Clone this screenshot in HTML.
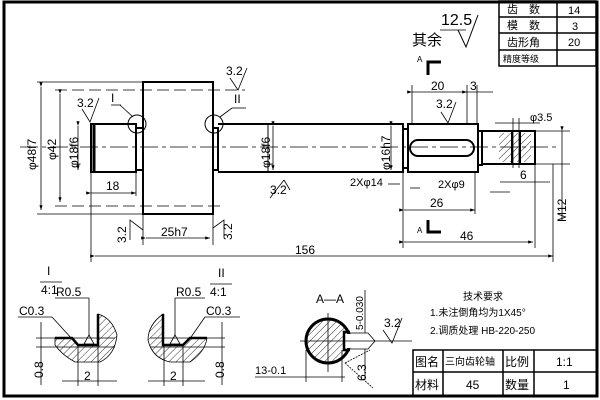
<!DOCTYPE html>
<html><head><meta charset="utf-8"><style>
html,body{margin:0;padding:0;background:#fff;}
svg{display:block;}
text{font-family:"Liberation Sans","Noto Sans CJK SC",sans-serif;fill:#000;}
</style></head><body>
<svg width="600" height="400" viewBox="0 0 600 400" xmlns="http://www.w3.org/2000/svg">
<defs>
<pattern id="h" width="5" height="5" patternUnits="userSpaceOnUse" patternTransform="rotate(45)"><line x1="0" y1="0" x2="0" y2="5" stroke="#000" stroke-width="0.8"/></pattern>
<marker id="a" markerWidth="6" markerHeight="4" refX="6" refY="2" orient="auto"><path d="M0,0L6,2L0,4z"/></marker>
</defs>
<rect x="0" y="0" width="600" height="400" fill="#fff"/>
<rect x="4" y="2" width="593" height="394" fill="none" stroke="#000" stroke-width="3"/>
<g stroke="#000" stroke-width="1.5" fill="none">
<rect x="499" y="1" width="97" height="65"/>
<line x1="499" y1="17" x2="596" y2="17"/><line x1="499" y1="33" x2="596" y2="33"/><line x1="499" y1="50" x2="596" y2="50"/>
<line x1="557" y1="1" x2="557" y2="66"/>
</g>
<g font-size="11">
<text x="507" y="13">齿　数</text><text x="568" y="14">14</text>
<text x="507" y="29">模　数</text><text x="572" y="30">3</text>
<text x="507" y="46">齿形角</text><text x="568" y="46">20</text>
<text x="503" y="62" font-size="9">精度等级</text>
</g>
<text x="412" y="45" font-size="15">其余</text>
<text x="441" y="25" font-size="16">12.5</text>
<path d="M458,30L466,47L478,15" fill="none" stroke="#000"/><line x1="440" y1="30" x2="466" y2="30" stroke="#000" stroke-width="0.8"/>
<text x="417" y="62" font-size="8">A</text>
<path d="M428,75V62H441" fill="none" stroke="#000" stroke-width="3"/>
<text x="417" y="233" font-size="8">A</text>
<path d="M428,220V232H441" fill="none" stroke="#000" stroke-width="3"/>

<g stroke="#000" fill="none">
<line x1="20" y1="147" x2="560" y2="147" stroke-width="0.8" stroke-dasharray="18,4,4,4"/>
<rect x="91" y="124" width="45" height="48" stroke-width="2"/>
<line x1="94" y1="124" x2="94" y2="172" stroke-width="3"/>
<rect x="136" y="128" width="7" height="42" stroke-width="2"/>
<rect x="143" y="82" width="70" height="132" stroke-width="2"/>
<rect x="213" y="128" width="5" height="42" stroke-width="2"/>
<path d="M218,124H403V172H218" stroke-width="2"/>
<line x1="268" y1="124" x2="268" y2="172" stroke-width="1"/>
<rect x="403" y="129" width="5" height="39" stroke-width="2"/>
<rect x="408" y="124" width="70" height="48" stroke-width="2"/>
<rect x="410" y="140" width="64" height="16" rx="8" stroke-width="2"/>
<rect x="478" y="131" width="4" height="34" stroke-width="2"/>
<rect x="482" y="131" width="53" height="33" stroke-width="2"/>
<rect x="499" y="133" width="32" height="29" fill="url(#h)" stroke="none"/>
<line x1="513" y1="118" x2="513" y2="168" stroke-width="0.8"/><line x1="519" y1="118" x2="519" y2="168" stroke-width="0.8"/>
<line x1="512" y1="131" x2="512" y2="164" stroke-width="2"/><line x1="520" y1="131" x2="520" y2="164" stroke-width="2"/>
<circle cx="137" cy="124" r="9" stroke-width="1"/>
<circle cx="214" cy="124" r="9" stroke-width="1"/>
<line x1="120" y1="105" x2="133" y2="117" stroke-width="0.8"/><line x1="111" y1="105" x2="121" y2="105" stroke-width="0.8"/>
<line x1="232" y1="108" x2="220" y2="117" stroke-width="0.8"/><line x1="232" y1="108" x2="246" y2="108" stroke-width="0.8"/>
</g>
<g stroke="#000" stroke-width="0.8" fill="none">
<line x1="37" y1="82" x2="143" y2="82"/><line x1="37" y1="214" x2="143" y2="214"/>
<line x1="55" y1="90" x2="245" y2="90" stroke-dasharray="12,5"/><line x1="55" y1="206" x2="220" y2="206" stroke-dasharray="12,5"/>
<line x1="41" y1="87" x2="41" y2="210" marker-start="url(#a)" marker-end="url(#a)"/>
<line x1="60" y1="94" x2="60" y2="202" marker-start="url(#a)" marker-end="url(#a)"/>
<line x1="78" y1="126" x2="78" y2="170" marker-start="url(#a)" marker-end="url(#a)"/>
<line x1="91" y1="172" x2="91" y2="262"/><line x1="136" y1="172" x2="136" y2="196"/>
<line x1="91" y1="193" x2="136" y2="193" marker-start="url(#a)" marker-end="url(#a)"/>
<line x1="143" y1="214" x2="143" y2="245"/><line x1="213" y1="214" x2="213" y2="245"/>
<line x1="146" y1="238" x2="210" y2="238" marker-start="url(#a)" marker-end="url(#a)"/>
<line x1="95" y1="256" x2="553" y2="256" marker-start="url(#a)" marker-end="url(#a)"/>
<line x1="553" y1="164" x2="553" y2="262"/>
<line x1="273" y1="126" x2="273" y2="170" marker-start="url(#a)" marker-end="url(#a)"/>
<line x1="391" y1="126" x2="391" y2="170" marker-start="url(#a)" marker-end="url(#a)"/>
<line x1="403" y1="172" x2="403" y2="248"/><line x1="475" y1="172" x2="475" y2="214"/><line x1="535" y1="164" x2="535" y2="248"/>
<line x1="404" y1="210" x2="475" y2="210" marker-start="url(#a)" marker-end="url(#a)"/>
<line x1="404" y1="242" x2="533" y2="242" marker-start="url(#a)" marker-end="url(#a)"/>
<line x1="412" y1="85" x2="412" y2="124"/><line x1="467" y1="85" x2="467" y2="124"/><line x1="477" y1="85" x2="477" y2="124"/>
<line x1="412" y1="92" x2="467" y2="92" marker-start="url(#a)" marker-end="url(#a)"/>
<line x1="467" y1="92" x2="493" y2="92"/>
<line x1="535" y1="131" x2="570" y2="131"/><line x1="535" y1="164" x2="570" y2="164"/>
<line x1="562" y1="131" x2="562" y2="220" marker-start="url(#a)"/>
<line x1="495" y1="123" x2="540" y2="123"/>
<line x1="500" y1="182" x2="550" y2="182"/>
<line x1="388" y1="184" x2="400" y2="184"/><line x1="410" y1="188" x2="420" y2="188"/>
<line x1="490" y1="192" x2="510" y2="192"/>
</g>
<g font-size="12">
<text transform="translate(36,170) rotate(-90)">φ48f7</text>
<text transform="translate(56,160) rotate(-90)">φ42</text>
<text transform="translate(78,168) rotate(-90)">φ18f6</text>
<text x="106" y="190">18</text>
<text x="161" y="236">25h7</text>
<text x="295" y="254">156</text>
<text transform="translate(270,168) rotate(-90)">φ18f6</text>
<text transform="translate(390,170) rotate(-90)">φ16h7</text>
<text x="350" y="186" font-size="11">2Xφ14</text>
<text x="438" y="188" font-size="11">2Xφ9</text>
<text x="430" y="207">26</text>
<text x="460" y="240">46</text>
<text x="431" y="90">20</text>
<text x="470" y="90">3</text>
<text x="530" y="121" font-size="11">φ3.5</text>
<text x="520" y="179">6</text>
<text transform="translate(566,222) rotate(-90)">M12</text>
<text x="77" y="107">3.2</text><text x="111" y="102">I</text>
<text x="226" y="75">3.2</text><text x="234" y="103">II</text>
<text x="436" y="108">3.2</text>
<text x="270" y="194">3.2</text>
<text transform="translate(126,243) rotate(-90)">3.2</text>
<text transform="translate(232,240) rotate(-90)">3.2</text>
</g>
<g stroke="#000" stroke-width="0.8" fill="none">
<path d="M82,109L90,122L99,98"/><path d="M230,78L238,90L247,68"/><path d="M441,112L448,123L456,102"/>
<path d="M284,180L270,198"/><path d="M284,180L290,190"/>
<path d="M143,230L130,220L130,240"/><path d="M213,228L224,220L224,236"/>
</g>

<!-- Detail I -->
<text x="47" y="275" font-size="12">I</text>
<line x1="40" y1="282" x2="62" y2="282" stroke="#000" stroke-width="0.8"/>
<text x="41" y="294" font-size="12">4:1</text>
<g stroke="#000" fill="none">
<path d="M55,338H72L78,345H98V314Q112,318 117,335Q115,355 100,362H75Q62,355 55,345Z" fill="url(#h)" stroke-width="0.8"/>
<path d="M55,338H72L78,345H98V314" stroke-width="2.5"/>
<line x1="36" y1="338" x2="115" y2="338" stroke-width="0.8"/><line x1="36" y1="347" x2="115" y2="347" stroke-width="0.8"/>
<line x1="41" y1="322" x2="41" y2="385" stroke-width="0.8"/>
<line x1="62" y1="381" x2="117" y2="381" stroke-width="0.8"/>
<line x1="78" y1="345" x2="78" y2="386" stroke-width="0.8"/><line x1="98" y1="345" x2="98" y2="386" stroke-width="0.8"/>
<line x1="18" y1="317" x2="52" y2="317" stroke-width="0.8"/><line x1="52" y1="317" x2="73" y2="340" stroke-width="0.8"/>
<line x1="55" y1="298" x2="89" y2="298" stroke-width="0.8"/><line x1="89" y1="298" x2="89" y2="336" stroke-width="0.8"/>
<path d="M89,335l-5,9h10z" stroke-width="0.8"/>
</g>
<text x="19" y="315" font-size="12">C0.3</text><text x="56" y="296" font-size="12">R0.5</text>
<text transform="translate(43,378) rotate(-90)" font-size="12">0.8</text><text x="84" y="380" font-size="12">2</text>

<!-- Detail II -->
<text x="218" y="277" font-size="12">II</text>
<line x1="210" y1="284" x2="232" y2="284" stroke="#000" stroke-width="0.8"/>
<text x="210" y="296" font-size="12">4:1</text>
<g stroke="#000" fill="none">
<path d="M163,314Q148,325 148,340Q152,358 170,362H190Q205,352 207,338H190L183,345H163Z" fill="url(#h)" stroke-width="0.8"/>
<path d="M163,314V345H183L190,338H207" stroke-width="2.5"/>
<line x1="150" y1="338" x2="225" y2="338" stroke-width="0.8"/><line x1="150" y1="347" x2="225" y2="347" stroke-width="0.8"/>
<line x1="222" y1="322" x2="222" y2="385" stroke-width="0.8"/>
<line x1="148" y1="381" x2="205" y2="381" stroke-width="0.8"/>
<line x1="164" y1="345" x2="164" y2="386" stroke-width="0.8"/><line x1="183" y1="345" x2="183" y2="386" stroke-width="0.8"/>
<line x1="175" y1="298" x2="205" y2="298" stroke-width="0.8"/><line x1="175" y1="298" x2="175" y2="336" stroke-width="0.8"/>
<path d="M175,335l-5,9h10z" stroke-width="0.8"/>
<line x1="205" y1="317" x2="240" y2="317" stroke-width="0.8"/><line x1="205" y1="317" x2="189" y2="340" stroke-width="0.8"/>
</g>
<text x="176" y="296" font-size="12">R0.5</text><text x="206" y="315" font-size="12">C0.3</text>
<text transform="translate(224,378) rotate(-90)" font-size="12">0.8</text><text x="170" y="380" font-size="12">2</text>

<!-- Section A-A -->
<g stroke="#000" fill="none">
<circle cx="328" cy="341" r="22" fill="url(#h)" stroke-width="3"/>
<rect x="345" y="334" width="10" height="14" fill="#fff" stroke="none"/>
<path d="M350,332H344V350H350" stroke-width="2.5"/>
<path d="M350,333H368L375,341L368,349H350" stroke-width="0.8"/>
<line x1="300" y1="341" x2="412" y2="341" stroke-width="0.8"/>
<line x1="328" y1="313" x2="328" y2="372" stroke-width="0.8"/>
<line x1="365" y1="290" x2="365" y2="333" stroke-width="0.8"/><line x1="365" y1="349" x2="365" y2="380" stroke-width="0.8"/>
<line x1="255" y1="377" x2="345" y2="377" stroke-width="0.8"/>
<line x1="306" y1="350" x2="306" y2="382" stroke-width="0.8"/><line x1="342" y1="350" x2="342" y2="382" stroke-width="0.8"/>
<path d="M383,330L392,343L402,318" stroke-width="0.8"/>
<path d="M345,363L370,350M345,363L373,388" stroke-width="0.8" stroke-dasharray="2,1"/>
</g>
<text x="316" y="303" font-size="12">A—A</text>
<text transform="translate(363,330) rotate(-90)" font-size="10">5-0.030</text>
<text x="384" y="327" font-size="12">3.2</text>
<text x="255" y="374" font-size="11">13-0.1</text>
<text transform="translate(366,381) rotate(-90)" font-size="12">6.3</text>

<text x="463" y="300" font-size="10">技术要求</text>
<text x="430" y="316" font-size="10">1.未注倒角均为1X45°</text>
<text x="430" y="334" font-size="10">2.调质处理 HB-220-250</text>

<g stroke="#000" stroke-width="1.5" fill="none">
<rect x="413" y="350" width="184" height="46"/>
<line x1="413" y1="372" x2="597" y2="372"/>
<line x1="443" y1="350" x2="443" y2="396"/><line x1="503" y1="350" x2="503" y2="396"/><line x1="534" y1="350" x2="534" y2="396"/>
</g>
<g font-size="12">
<text x="415" y="366">图名</text><text x="445" y="365" font-size="10">三向齿轮轴</text><text x="505" y="366">比例</text><text x="556" y="366">1:1</text>
<text x="415" y="389">材料</text><text x="466" y="389">45</text><text x="505" y="389">数量</text><text x="563" y="389">1</text>
</g>
</svg>
</body></html>
